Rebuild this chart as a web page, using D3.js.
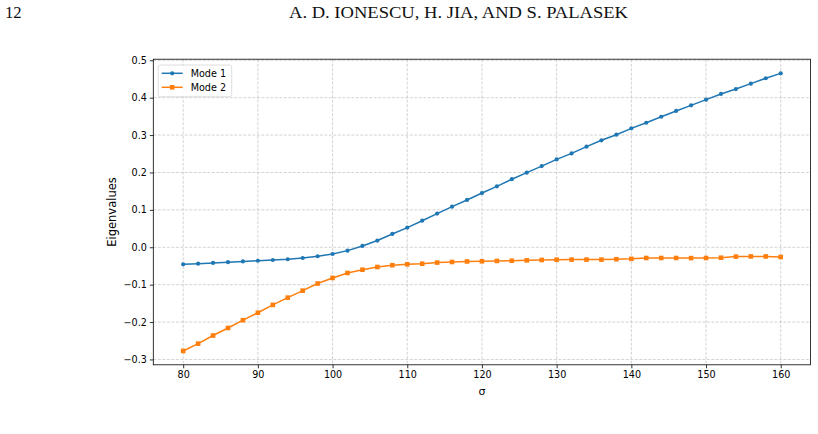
<!DOCTYPE html>
<html><head><meta charset="utf-8">
<script src="https://cdn.jsdelivr.net/npm/d3@7"></script>
<style>
body{margin:0;background:#fff;}
svg{display:block;}
</style></head>
<body>
<svg id="c" width="818" height="434"></svg>
<script>
const sigma = [80,82,84,86,88,90,92,94,96,98,100,102,104,106,108,110,112,114,116,118,120,122,124,126,128,130,132,134,136,138,140,142,144,146,148,150,152,154,156,158,160];
const mode1 = [-0.0455,-0.044,-0.042,-0.040,-0.038,-0.036,-0.034,-0.032,-0.0287,-0.024,-0.018,-0.009,0.0035,0.018,0.0356,0.0525,0.071,0.090,0.1086,0.1265,0.145,0.163,0.182,0.1995,0.217,0.235,0.251,0.269,0.286,0.301,0.318,0.333,0.349,0.3645,0.3795,0.3947,0.41,0.423,0.4375,0.452,0.465];
const mode2 = [-0.2773,-0.2577,-0.236,-0.2158,-0.195,-0.175,-0.154,-0.1347,-0.116,-0.097,-0.082,-0.0687,-0.060,-0.0527,-0.048,-0.0455,-0.044,-0.041,-0.0393,-0.038,-0.0375,-0.0366,-0.036,-0.035,-0.034,-0.0333,-0.033,-0.033,-0.033,-0.032,-0.031,-0.0287,-0.0287,-0.0287,-0.029,-0.0287,-0.028,-0.025,-0.0245,-0.0245,-0.026];
const seriesNames = ["Mode 1","Mode 2"];
const colors = ["#1f77b4","#ff7f0e"];
const xTicks = [80,90,100,110,120,130,140,150,160];
const yTicks = [-0.3,-0.2,-0.1,0.0,0.1,0.2,0.3,0.4,0.5];
const pageNumber = "12";
const runningHead = "A. D. IONESCU, H. JIA, AND S. PALASEK";

const svg = d3.select("#c");
const L = 153.3, R = 810.6, T = 59.2, B = 364.8;
const x = d3.scaleLinear().domain([76,164]).range([L,R]);
const y = d3.scaleLinear().domain([-0.3143,0.5029]).range([B,T]);

// header
svg.append("text").attr("x",5).attr("y",18.3).attr("font-family","'Liberation Serif','DejaVu Serif',serif")
  .attr("font-size",16).attr("fill","#111").attr("textLength",16.7).attr("lengthAdjust","spacingAndGlyphs").text(pageNumber);
svg.append("text").attr("x",289).attr("y",18.3).attr("font-family","'Liberation Serif','DejaVu Serif',serif")
  .attr("font-size",16).attr("fill","#111").attr("textLength",339).attr("lengthAdjust","spacingAndGlyphs").text(runningHead);

const font = "'DejaVu Sans',sans-serif";
const g = svg.append("g");
// grid
g.selectAll(".gx").data(xTicks).join("line")
  .attr("x1",d=>x(d)).attr("x2",d=>x(d)).attr("y1",T).attr("y2",B)
  .attr("stroke","#b0b0b0").attr("stroke-opacity",0.7).attr("stroke-width",0.8).attr("stroke-dasharray","3,1.5");
g.selectAll(".gy").data(yTicks).join("line")
  .attr("y1",d=>y(d)).attr("y2",d=>y(d)).attr("x1",L).attr("x2",R)
  .attr("stroke","#b0b0b0").attr("stroke-opacity",0.7).attr("stroke-width",0.8).attr("stroke-dasharray","3,1.5");

// axes
const xAxis = d3.axisBottom(x).tickValues(xTicks).tickSize(3.5).tickPadding(3).tickFormat(d3.format("d"));
const yAxis = d3.axisLeft(y).tickValues(yTicks).tickSize(3.5).tickPadding(3).tickFormat(d3.format(".1f"));
const gx = svg.append("g").attr("transform",`translate(0,${B})`).call(xAxis);
const gy = svg.append("g").attr("transform",`translate(${L},0)`).call(yAxis);
[gx,gy].forEach(a=>{
  a.select(".domain").remove();
  a.selectAll("line").attr("stroke","#000").attr("stroke-width",0.8);
  a.selectAll("text").attr("font-family",font).attr("font-size",9.6).attr("fill","#000");
});
// spines
svg.append("rect").attr("x",L).attr("y",T).attr("width",R-L).attr("height",B-T)
  .attr("fill","none").attr("stroke","#000").attr("stroke-width",0.8);

// labels
svg.append("text").attr("x",x(120)).attr("y",395).attr("text-anchor","middle")
  .attr("font-family",font).attr("font-size",11).text("σ");
svg.append("text").attr("transform",`translate(116,${(T+B)/2}) rotate(-90)`).attr("text-anchor","middle")
  .attr("font-family",font).attr("font-size",11.5).text("Eigenvalues");

// series
const data = [mode1, mode2];
const line = d3.line().x((d,i)=>x(sigma[i])).y(d=>y(d));
data.forEach((vals,k)=>{
  svg.append("path").datum(vals).attr("d",line).attr("fill","none")
    .attr("stroke",colors[k]).attr("stroke-width",1.5).attr("stroke-linejoin","round");
  if(k===0){
    svg.append("g").selectAll("circle").data(vals).join("circle")
      .attr("cx",(d,i)=>x(sigma[i])).attr("cy",d=>y(d)).attr("r",2.1).attr("fill",colors[k]);
  } else {
    svg.append("g").selectAll("rect").data(vals).join("rect")
      .attr("x",(d,i)=>x(sigma[i])-2.3).attr("y",d=>y(d)-2.3).attr("width",4.6).attr("height",4.6).attr("fill",colors[k]);
  }
});

// legend
const lg = svg.append("g");
lg.append("rect").attr("x",158.3).attr("y",65).attr("width",73.4).attr("height",31.7).attr("rx",2)
  .attr("fill","#fff").attr("fill-opacity",0.8).attr("stroke","#d6d6d6").attr("stroke-width",0.8);
seriesNames.forEach((n,k)=>{
  const yy = 73.3 + k*14;
  lg.append("line").attr("x1",161.7).attr("x2",182.7).attr("y1",yy).attr("y2",yy).attr("stroke",colors[k]).attr("stroke-width",1.5);
  if(k===0) lg.append("circle").attr("cx",172.2).attr("cy",yy).attr("r",2.1).attr("fill",colors[k]);
  else lg.append("rect").attr("x",172.2-2.3).attr("y",yy-2.3).attr("width",4.6).attr("height",4.6).attr("fill",colors[k]);
  lg.append("text").attr("x",190.7).attr("y",yy+3.4).attr("font-family",font).attr("font-size",9.6).text(n);
});
</script>
</body></html>
